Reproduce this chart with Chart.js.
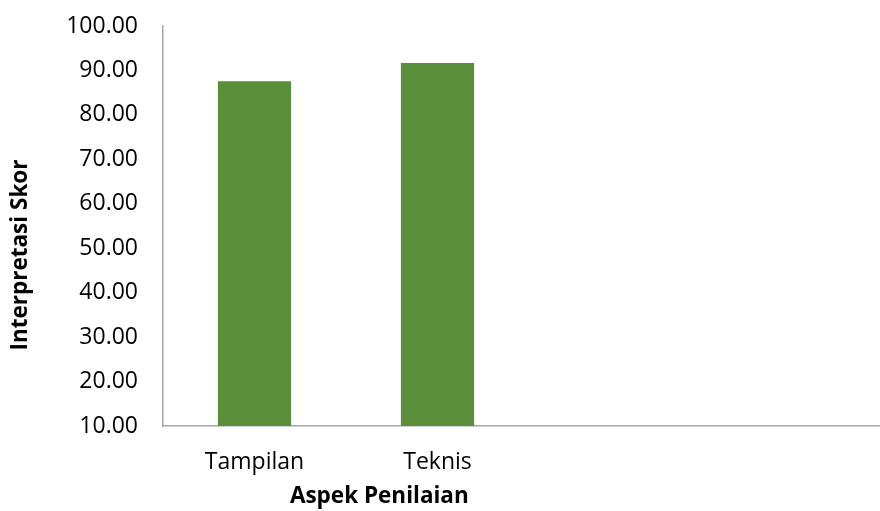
<!DOCTYPE html>
<html>
<head>
<meta charset="utf-8">
<script src="https://cdn.jsdelivr.net/npm/chart.js@4/dist/chart.umd.min.js"></script>
<style>
  html, body { margin: 0; padding: 0; background: #ffffff; overflow: hidden; }
  #wrap { width: 880px; height: 511px; overflow: hidden; position: relative; }
  #box { position: absolute; left: 0; top: 0; width: 895px; height: 511px; }
</style>
</head>
<body>
<div id="wrap"><div id="box"><canvas id="c"></canvas></div></div>
<script>
const categories = ['Tampilan', 'Teknis', '', ''];
const scores = [87.55, 91.7, null, null];
const yTicks = [10, 20, 30, 40, 50, 60, 70, 80, 90, 100];
const xTitle = 'Aspek Penilaian';
const yTitle = 'Interpretasi Skor';

const FONT = '"Open Sans", "Noto Sans", sans-serif';

const titlePlugin = {
  id: 'titles',
  afterDraw(chart) {
    const ctx = chart.ctx;
    const xs = chart.scales.x, ys = chart.scales.y;
    ctx.save();
    ctx.fillStyle = '#000000';
    ctx.font = 'bold 22.5px ' + FONT;
    ctx.textAlign = 'center';
    ctx.textBaseline = 'middle';
    ctx.fillText(xTitle, xs.left + (xs.right - xs.left) * 0.2955, ys.bottom + 71);
    ctx.translate(21, ys.top + (ys.bottom - ys.top) * 0.5725);
    ctx.rotate(-Math.PI / 2);
    ctx.fillText(yTitle, 0, 0);
    ctx.restore();
  }
};

new Chart(document.getElementById('c'), {
  type: 'bar',
  data: {
    labels: categories,
    datasets: [{
      data: scores,
      backgroundColor: '#5B8E3A',
      borderWidth: 0,
      barPercentage: 0.4,
      categoryPercentage: 1.0
    }]
  },
  options: {
    responsive: true,
    maintainAspectRatio: false,
    animation: false,
    layout: { padding: { top: 26, left: 0, right: 0, bottom: 0 } },
    plugins: { legend: { display: false }, tooltip: { enabled: false } },
    scales: {
      x: {
        grid: { display: false, drawTicks: false },
        border: { display: true, color: '#A6A6A6', width: 1.5 },
        ticks: { color: '#000000', font: { family: FONT, size: 23 }, padding: 23, maxRotation: 0, autoSkip: false },
        afterFit(scale) { scale.height = 85; scale.paddingLeft = 0; scale.paddingRight = 0; }
      },
      y: {
        min: 10,
        max: 100,
        grid: { display: false, drawTicks: false },
        border: { display: true, color: '#A6A6A6', width: 1.5 },
        ticks: {
          stepSize: 10,
          color: '#000000',
          font: { family: FONT, size: 23 },
          padding: 25,
          callback: (v) => yTicks.includes(v) ? Number(v).toFixed(2) : ''
        },
        afterFit(scale) { scale.width = 163; scale.paddingTop = 0; scale.paddingBottom = 0; }
      }
    }
  },
  plugins: [titlePlugin]
});
</script>
</body>
</html>
